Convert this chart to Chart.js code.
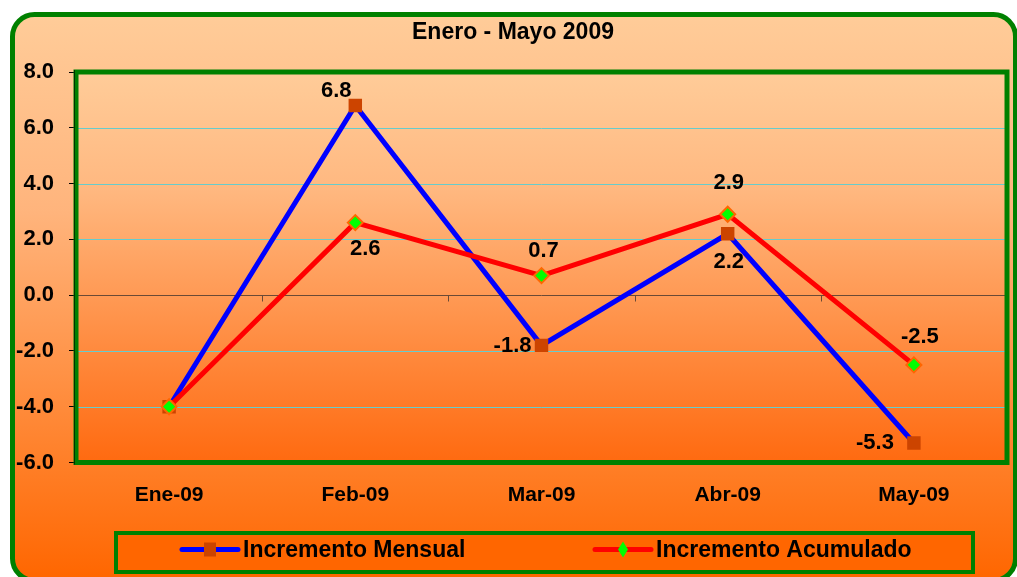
<!DOCTYPE html>
<html>
<head>
<meta charset="utf-8">
<script src="https://cdn.jsdelivr.net/npm/chart.js"></script>
<style>
  html, body { margin: 0; padding: 0; background: #fff; }
  #wrap { width: 1017px; height: 577px; }
</style>
</head>
<body>
<div id="wrap"><canvas id="chart" width="1017" height="577"></canvas></div>
<script>
// chart values
const titleText = "Enero - Mayo 2009";
const categories = ["Ene-09", "Feb-09", "Mar-09", "Abr-09", "May-09"];
const mensual = [-4.0, 6.8, -1.8, 2.2, -5.3];
const acumulado = [-4.0, 2.6, 0.7, 2.9, -2.5];
const seriesNames = ["Incremento Mensual", "Incremento Acumulado"];
const yMin = -6, yMax = 8, yStep = 2;

const FONT = "'Liberation Sans', Arial, sans-serif";

// where each value label sits relative to its point: [dx, dy, align], null = no label
const labelPlace = [
    [null, [-19, -15, "center"], [-10, 1, "right"], [1, 28, "center"], [-20, 0, "right"]],
    [null, [10, 26, "center"], [2, -25, "center"], [1, -31, "center"], [6, -28, "center"]]
];

const decor = {
    id: "decor",
    beforeDraw(chart) {
        const ctx = chart.ctx, a = chart.chartArea;
        ctx.save();
        ctx.fillStyle = "#ffffff";
        ctx.fillRect(0, 0, chart.width, chart.height);
        // outer rounded frame
        const g = ctx.createLinearGradient(0, 14, 0, 580);
        g.addColorStop(0, "#ffcc99");
        g.addColorStop(0.35, "#ffb47c");
        g.addColorStop(1, "#ff6600");
        ctx.beginPath();
        ctx.roundRect(12.5, 14.5, 1003, 566, 22);
        ctx.fillStyle = g;
        ctx.fill();
        ctx.lineWidth = 5;
        ctx.strokeStyle = "#008000";
        ctx.stroke();
        // plot area
        const pg = ctx.createLinearGradient(0, a.top, 0, a.bottom);
        pg.addColorStop(0, "#ffcc99");
        pg.addColorStop(0.3, "#ffb880");
        pg.addColorStop(1, "#ff6a10");
        ctx.fillStyle = pg;
        ctx.fillRect(a.left, a.top, a.right - a.left, a.bottom - a.top);
        // title
        ctx.fillStyle = "#000";
        ctx.font = "bold 23px " + FONT;
        ctx.textAlign = "center";
        ctx.textBaseline = "middle";
        ctx.fillText(titleText, 513, 33);
        ctx.restore();
    },
    beforeDatasetsDraw(chart) {
        const ctx = chart.ctx, a = chart.chartArea;
        const y = chart.scales.y;
        ctx.save();
        // horizontal grid lines
        ctx.lineWidth = 1;
        y.ticks.forEach(t => {
            if (t.value === 0) return;
            const py = Math.round(y.getPixelForValue(t.value)) + 0.5;
            ctx.strokeStyle = "#66cccc";
            ctx.beginPath();
            ctx.moveTo(a.left, py);
            ctx.lineTo(a.right, py);
            ctx.stroke();
        });
        // zero line and its category ticks
        const y0 = Math.round(y.getPixelForValue(0)) + 0.5;
        ctx.strokeStyle = "#6b4a36";
        ctx.beginPath();
        ctx.moveTo(a.left, y0);
        ctx.lineTo(a.right, y0);
        ctx.stroke();
        const step = (a.right - a.left) / categories.length;
        for (let i = 0; i <= categories.length; i++) {
            const px = Math.round(a.left + i * step) + 0.5;
            ctx.beginPath();
            ctx.moveTo(px, y0);
            ctx.lineTo(px, y0 + 6);
            ctx.stroke();
        }
        // green plot border
        ctx.strokeStyle = "#008000";
        ctx.lineWidth = 5;
        ctx.strokeRect(a.left, a.top, a.right - a.left, a.bottom - a.top);
        ctx.strokeStyle = "#003300";
        ctx.lineWidth = 1;
        ctx.beginPath();
        ctx.moveTo(a.left - 1.5, a.top - 2);
        ctx.lineTo(a.left - 1.5, a.bottom + 2);
        ctx.stroke();
        ctx.restore();
    },
    afterDatasetsDraw(chart) {
        const ctx = chart.ctx;
        ctx.save();
        ctx.font = "bold 22px " + FONT;
        ctx.fillStyle = "#000";
        ctx.textBaseline = "middle";
        chart.data.datasets.forEach((ds, di) => {
            const meta = chart.getDatasetMeta(di);
            meta.data.forEach((pt, i) => {
                const p = labelPlace[di][i];
                if (!p) return;
                ctx.textAlign = p[2];
                ctx.fillText(ds.data[i].toFixed(1), pt.x + p[0], pt.y + p[1]);
            });
        });
        ctx.restore();
    },
    afterDraw(chart) {
        const ctx = chart.ctx;
        ctx.save();
        // legend box
        ctx.fillStyle = "#ff6600";
        ctx.fillRect(116, 533, 857, 39);
        ctx.strokeStyle = "#008000";
        ctx.lineWidth = 4;
        ctx.strokeRect(116, 533, 857, 39);
        const items = [
            { x: 180, ds: chart.data.datasets[0] },
            { x: 593, ds: chart.data.datasets[1] }
        ];
        items.forEach((it, k) => {
            const cy = 549.5;
            ctx.strokeStyle = it.ds.borderColor;
            ctx.lineWidth = 5;
            ctx.lineCap = "round";
            ctx.beginPath();
            ctx.moveTo(it.x + 2, cy);
            ctx.lineTo(it.x + 58, cy);
            ctx.stroke();
            const mx = it.x + 30;
            if (k === 0) {
                ctx.fillStyle = it.ds.pointBackgroundColor;
                ctx.fillRect(mx - 6, cy - 7, 12, 14);
            } else {
                ctx.beginPath();
                ctx.moveTo(mx, cy - 8);
                ctx.lineTo(mx + 5, cy);
                ctx.lineTo(mx, cy + 8);
                ctx.lineTo(mx - 5, cy);
                ctx.closePath();
                ctx.fillStyle = it.ds.pointBackgroundColor;
                ctx.fill();
            }
            ctx.fillStyle = "#000";
            ctx.font = "bold 23px " + FONT;
            ctx.textAlign = "left";
            ctx.textBaseline = "middle";
            ctx.fillText(it.ds.label, it.x + 63, cy + 1);
        });
        ctx.restore();
    }
};

new Chart(document.getElementById("chart"), {
    type: "line",
    data: {
        labels: categories,
        datasets: [{
            label: seriesNames[0],
            data: mensual,
            borderColor: "#0000ff",
            borderWidth: 5,
            pointStyle: "rect",
            pointRadius: 9.5,
            pointBackgroundColor: "#cc4400",
            pointBorderColor: "#cc4400",
            pointBorderWidth: 0,
            tension: 0,
            order: 1
        }, {
            label: seriesNames[1],
            data: acumulado,
            borderColor: "#ff0000",
            borderWidth: 5,
            pointStyle: "rectRot",
            pointRadius: 7.5,
            pointBackgroundColor: "#00ff00",
            pointBorderColor: "#ff6600",
            pointBorderWidth: 2,
            tension: 0,
            order: 0
        }]
    },
    options: {
        responsive: false,
        animation: false,
        events: [],
        layout: { padding: { left: 0, right: 10, top: 72, bottom: 0 } },
        plugins: { legend: { display: false }, title: { display: false }, tooltip: { enabled: false } },
        scales: {
            x: {
                offset: true,
                grid: { display: false, drawTicks: false },
                border: { display: false },
                ticks: { padding: 20, color: "#000", font: { family: FONT, size: 21, weight: "bold" } },
                afterFit: s => { s.height = 114.5; }
            },
            y: {
                min: yMin,
                max: yMax,
                ticks: {
                    stepSize: yStep,
                    padding: 15,
                    color: "#000",
                    font: { family: FONT, size: 22, weight: "bold" },
                    callback: v => v.toFixed(1)
                },
                grid: {
                    color: "rgba(0,0,0,0)",
                    tickColor: "#000",
                    tickLength: 7
                },
                border: { display: false },
                afterFit: s => { s.width = 76; }
            }
        }
    },
    plugins: [decor]
});
</script>
</body>
</html>
